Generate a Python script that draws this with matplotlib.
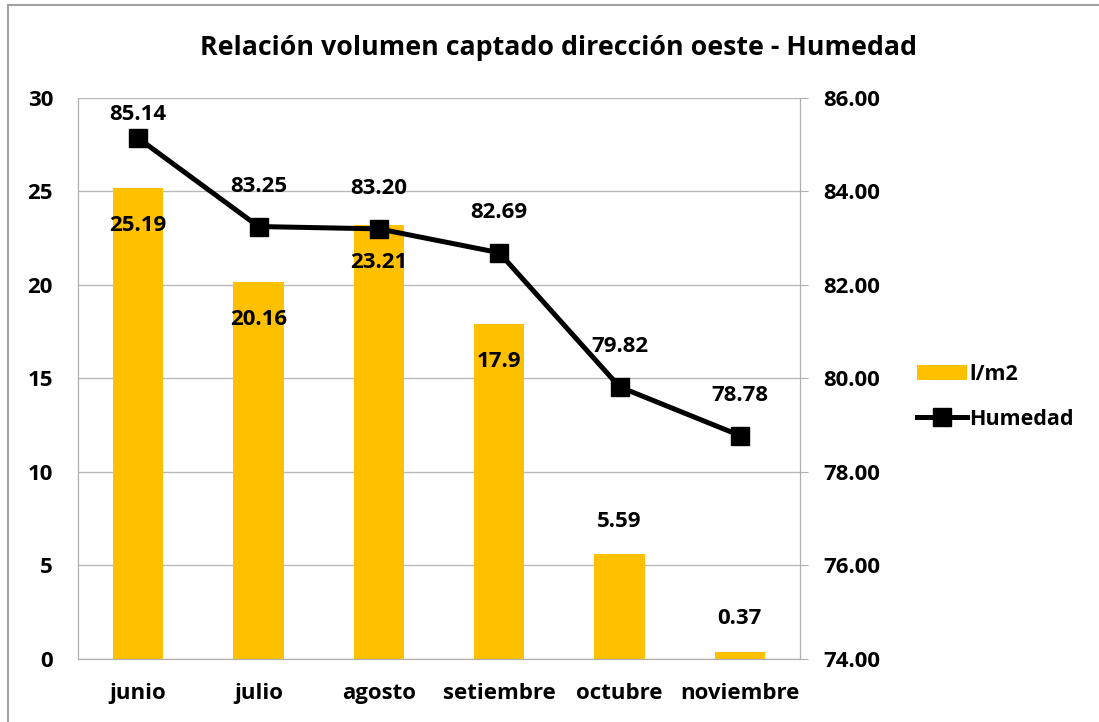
import matplotlib.pyplot as plt
from matplotlib.patches import Rectangle

# data
meses = ['junio', 'julio', 'agosto', 'setiembre', 'octubre', 'noviembre']
volumen = [25.19, 20.16, 23.21, 17.9, 5.59, 0.37]
humedad = [85.14, 83.25, 83.20, 82.69, 79.82, 78.78]
vol_labels = ['25.19', '20.16', '23.21', '17.9', '5.59', '0.37']

plt.rcParams['font.family'] = ['Open Sans', 'DejaVu Sans']
plt.rcParams['font.weight'] = 'bold'
FS = 16

fig = plt.figure(figsize=(10.99, 7.22), dpi=100)
ax = fig.add_axes([0.071, 0.0873, 0.657, 0.777])
ax2 = ax.twinx()

x = range(len(meses))
ax.bar(x, volumen, width=0.42, color='#FFC000', zorder=2, label='l/m2')
ax.set_ylim(0, 30)
ax.set_xlim(-0.5, len(meses) - 0.5)
ax.set_yticks(range(0, 31, 5))
ax.yaxis.grid(True, color='#b8b8b8', lw=1, zorder=0)
ax.set_axisbelow(True)
ax.set_xticks(list(x))
ax.set_xticklabels(meses, fontsize=FS, fontweight='bold')
ax.tick_params(axis='y', labelsize=FS, length=0, pad=18)
ax.tick_params(axis='x', length=0, pad=17)
for lbl in ax.get_yticklabels():
    lbl.set_fontweight('bold')

# bar labels: inside end for tall bars, above for short ones
for i, v in enumerate(volumen):
    if v > 10:
        ax.annotate(vol_labels[i], (i, v), xytext=(0, -27), textcoords='offset points',
                    ha='center', va='center', fontsize=FS, fontweight='bold')
    else:
        ax.annotate(vol_labels[i], (i, v), xytext=(0, 24), textcoords='offset points',
                    ha='center', va='center', fontsize=FS, fontweight='bold')

ax2.plot(list(x), humedad, color='black', lw=3.6, marker='s', ms=13, zorder=3, label='Humedad')
ax2.set_ylim(74, 86)
ax2.set_yticks(range(74, 87, 2))
ax2.set_yticklabels(['%.2f' % t for t in range(74, 87, 2)], fontsize=FS, fontweight='bold')
ax2.tick_params(axis='y', length=6, color='#b0b0b0', pad=11)
for i, h in enumerate(humedad):
    off = 17 if i == 0 else 29
    ax2.annotate('%.2f' % h, (i, h), xytext=(0, off), textcoords='offset points',
                 ha='center', va='center', fontsize=FS, fontweight='bold')

for a in (ax, ax2):
    for s in a.spines.values():
        s.set_color('#b0b0b0')
    a.spines['top'].set_visible(False)

ax.set_zorder(ax2.get_zorder() - 1)
ax.patch.set_visible(False)

fig.text(0.508, 0.933, 'Relación volumen captado dirección oeste - Humedad',
         ha='center', va='center', fontsize=19.3, fontweight='bold')

h1, l1 = ax.get_legend_handles_labels()
h2, l2 = ax2.get_legend_handles_labels()
fig.legend(h1 + h2, l1 + l2, loc='center left', bbox_to_anchor=(0.817, 0.45),
           frameon=False, handlelength=2.3, handletextpad=0.1,
           labelspacing=1.1, prop={'weight': 'bold', 'size': 15.5})

fig.patches.append(Rectangle((0.007, -0.05), 1.1, 1.043, transform=fig.transFigure,
                             fill=False, edgecolor='#a0a0a0', lw=1.5))

fig.savefig('out.png', dpi=100)
